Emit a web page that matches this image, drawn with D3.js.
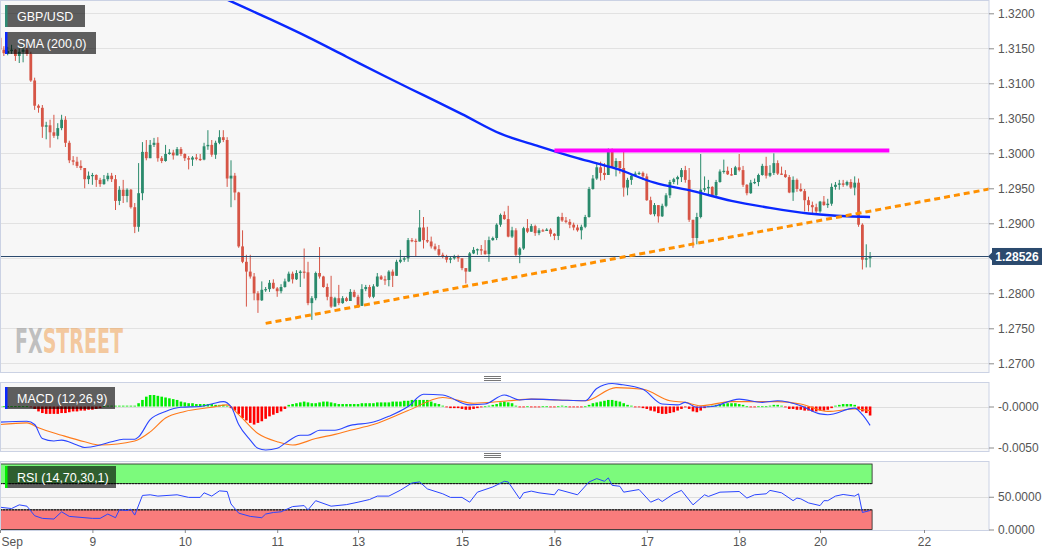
<!DOCTYPE html>
<html>
<head>
<meta charset="utf-8">
<script src="https://cdn.jsdelivr.net/npm/d3@7"></script>
<style>
  body { margin: 0; background: #fff; }
  svg { display: block; font-family: 'Liberation Sans', Arial, sans-serif; }
</style>
</head>
<body>
<svg id="chart" width="1060" height="555"></svg>
<script>
const W = 1060;
const H = 555;
const STEP = 3.85;      // px per hourly candle
const PLOT_R = 989;

// x axis: day labels sit on candle indices (weekend gap collapsed)
const dayLabels = ['Sep', '9', '10', '11', '13', '15', '16', '17', '18', '20', '22'];
const dayIdx = [0, 24, 48, 72, 93, 120, 144, 168, 192, 213, 240];

const priceGrid = [1.27, 1.275, 1.28, 1.285, 1.29, 1.295, 1.30, 1.305, 1.31, 1.315, 1.32];
// 1.2850 label sits under the last-price tag, so it is not printed
const priceLabels = [1.27, 1.275, 1.28, 1.29, 1.295, 1.30, 1.305, 1.31, 1.315, 1.32];
const lastPrice = 1.28526;
const firstOpen = 1.3165;

// hourly candles, open = previous close
const closes = [
  1.3148, 1.3143, 1.3146, 1.3148, 1.3139, 1.3145, 1.3148, 1.3142, 1.3104, 1.3068,
  1.3065, 1.3038, 1.3040, 1.3030, 1.3025, 1.3036, 1.3048, 1.3015, 1.2990, 1.2988,
  1.2982, 1.2979, 1.2963, 1.2968, 1.2969, 1.2962, 1.2956, 1.2963, 1.2968, 1.2963,
  1.2932, 1.2948, 1.2939, 1.2948, 1.2923, 1.2895, 1.2943, 1.3002, 1.2993, 1.3012,
  1.3015, 1.2993, 1.2989, 1.2999, 1.3001, 1.2997, 1.3006, 1.2999, 1.2993, 1.2991,
  1.2994, 1.2992, 1.2991, 1.3010, 1.3012, 1.2998, 1.3015, 1.3023, 1.3019, 1.2964,
  1.2968, 1.2944, 1.2867, 1.2845, 1.2831, 1.2824, 1.2800, 1.2790, 1.2805, 1.2806,
  1.2815, 1.2807, 1.2803, 1.2809, 1.2817, 1.2828, 1.2820, 1.2829, 1.2831, 1.2830,
  1.2786, 1.2793, 1.2829, 1.2824, 1.2809, 1.2795, 1.2781, 1.2793, 1.2786, 1.2793,
  1.2789, 1.2802, 1.2795, 1.2782, 1.2806, 1.2809, 1.2795, 1.2810, 1.2824, 1.2820,
  1.2819, 1.2831, 1.2825, 1.2845, 1.2848, 1.2850, 1.2876, 1.2875, 1.2874, 1.2894,
  1.2876, 1.2874, 1.2867, 1.2863, 1.2855, 1.2853, 1.2848, 1.2850, 1.2852, 1.2850,
  1.2836, 1.2831, 1.2857, 1.2862, 1.2863, 1.2861, 1.2856, 1.2876, 1.2879, 1.2898,
  1.2912, 1.2906, 1.2881, 1.2890, 1.2855, 1.2864, 1.2893, 1.2888, 1.2896, 1.2886,
  1.2890, 1.2889, 1.2891, 1.2885, 1.2882, 1.2909, 1.2904, 1.2902, 1.2898, 1.2894,
  1.2890, 1.2895, 1.2909, 1.2949, 1.2964, 1.2980, 1.2972, 1.2969, 1.3002, 1.2980,
  1.2989, 1.2979, 1.2951, 1.2962, 1.2968, 1.2971, 1.2972, 1.2967, 1.2933, 1.2913,
  1.2926, 1.2910, 1.2925, 1.2940, 1.2959, 1.2963, 1.2966, 1.2976, 1.2962, 1.2905,
  1.2879, 1.2909, 1.2948, 1.2950, 1.2952, 1.2940, 1.2959, 1.2974, 1.2975, 1.2970,
  1.2969, 1.2980, 1.2976, 1.2955, 1.2943, 1.2958, 1.2959, 1.2969, 1.2982, 1.2968,
  1.2972, 1.2986, 1.2971, 1.2970, 1.2966, 1.2944, 1.2962, 1.2949, 1.2946, 1.2933,
  1.2926, 1.2923, 1.2917, 1.2931, 1.2926, 1.2928, 1.2952, 1.2955, 1.2957, 1.2955,
  1.2959, 1.2951, 1.2958, 1.2898, 1.2848, 1.2850, 1.28526
];
const highs = [
  1.3170, 1.3153, 1.3152, 1.3155, 1.3149, 1.3150, 1.3156, 1.3152, 1.3145, 1.3108,
  1.3070, 1.3069, 1.3045, 1.3048, 1.3055, 1.3043, 1.3055, 1.3053, 1.3018, 1.2996,
  1.2995, 1.2990, 1.2978, 1.2974, 1.2972, 1.2970, 1.2965, 1.2969, 1.2972, 1.2972,
  1.2969, 1.2953, 1.2962, 1.2950, 1.2949, 1.2929, 1.2986, 1.3016, 1.3019, 1.3019,
  1.3022, 1.3023, 1.2996, 1.3012, 1.3006, 1.3005, 1.3009, 1.3009, 1.3000, 1.2996,
  1.2996, 1.2999, 1.2999, 1.3015, 1.3033, 1.3019, 1.3018, 1.3033, 1.3033, 1.3023,
  1.2990, 1.2972, 1.2945, 1.2890, 1.2855, 1.2855, 1.2829, 1.2803, 1.2817, 1.2809,
  1.2819, 1.2820, 1.2809, 1.2813, 1.2821, 1.2831, 1.2831, 1.2833, 1.2833, 1.2864,
  1.2845, 1.2796, 1.2831, 1.2866, 1.2825, 1.2814, 1.2825, 1.2795, 1.2812, 1.2796,
  1.2795, 1.2806, 1.2805, 1.2798, 1.2813, 1.2812, 1.2812, 1.2813, 1.2829, 1.2826,
  1.2825, 1.2833, 1.2834, 1.2848, 1.2862, 1.2853, 1.2879, 1.2879, 1.2878, 1.2919,
  1.2909, 1.2895, 1.2881, 1.2871, 1.2869, 1.2858, 1.2855, 1.2852, 1.2855, 1.2855,
  1.2850, 1.2836, 1.2859, 1.2866, 1.2864, 1.2869, 1.2876, 1.2881, 1.2881, 1.2900,
  1.2914, 1.2917, 1.2925, 1.2895, 1.2893, 1.2866, 1.2895, 1.2906, 1.2899, 1.2898,
  1.2893, 1.2892, 1.2893, 1.2893, 1.2886, 1.2910, 1.2915, 1.2909, 1.2906, 1.2901,
  1.2898, 1.2898, 1.2912, 1.2952, 1.2969, 1.2986, 1.2988, 1.2986, 1.3007, 1.3007,
  1.2993, 1.2988, 1.3005, 1.2965, 1.2970, 1.2974, 1.2974, 1.2974, 1.2971, 1.2938,
  1.2929, 1.2926, 1.2928, 1.2943, 1.2962, 1.2965, 1.2968, 1.2979, 1.2982, 1.2979,
  1.2905, 1.2915, 1.2999, 1.2967, 1.2962, 1.2953, 1.2962, 1.2977, 1.2991, 1.2981,
  1.2979, 1.2982, 1.2999, 1.2982, 1.2956, 1.2962, 1.2964, 1.2971, 1.2985, 1.2995,
  1.2983, 1.3000, 1.2990, 1.2981, 1.2976, 1.2969, 1.2967, 1.2964, 1.2957, 1.2949,
  1.2938, 1.2931, 1.2928, 1.2932, 1.2939, 1.2935, 1.2957, 1.2959, 1.2962, 1.2962,
  1.2961, 1.2963, 1.2967, 1.2964, 1.2900, 1.2870, 1.2859
];
const lows = [
  1.3142, 1.3139, 1.3140, 1.3142, 1.3132, 1.3129, 1.3130, 1.3139, 1.3102, 1.3062,
  1.3058, 1.3022, 1.3020, 1.3008, 1.3022, 1.3020, 1.3033, 1.3009, 1.2986, 1.2983,
  1.2979, 1.2976, 1.2950, 1.2956, 1.2955, 1.2952, 1.2952, 1.2955, 1.2960, 1.2959,
  1.2919, 1.2926, 1.2929, 1.2930, 1.2921, 1.2886, 1.2888, 1.2933, 1.2990, 1.2993,
  1.3009, 1.2988, 1.2986, 1.2988, 1.2998, 1.2991, 1.2998, 1.2996, 1.2989, 1.2977,
  1.2982, 1.2990, 1.2989, 1.2990, 1.3005, 1.2995, 1.2992, 1.3013, 1.3016, 1.2952,
  1.2923, 1.2933, 1.2865, 1.2843, 1.2781, 1.2821, 1.2790, 1.2772, 1.2789, 1.2802,
  1.2802, 1.2806, 1.2795, 1.2800, 1.2808, 1.2816, 1.2814, 1.2819, 1.2809, 1.2821,
  1.2783, 1.2762, 1.2790, 1.2821, 1.2808, 1.2790, 1.2779, 1.2781, 1.2783, 1.2785,
  1.2788, 1.2789, 1.2794, 1.2779, 1.2796, 1.2803, 1.2793, 1.2793, 1.2809, 1.2819,
  1.2812, 1.2810, 1.2809, 1.2825, 1.2843, 1.2845, 1.2845, 1.2873, 1.2852, 1.2874,
  1.2864, 1.2872, 1.2864, 1.2861, 1.2852, 1.2850, 1.2844, 1.2843, 1.2848, 1.2845,
  1.2833, 1.2814, 1.2840, 1.2856, 1.2855, 1.2855, 1.2855, 1.2845, 1.2875, 1.2876,
  1.2895, 1.2905, 1.2880, 1.2879, 1.2853, 1.2843, 1.2862, 1.2886, 1.2888, 1.2882,
  1.2883, 1.2888, 1.2889, 1.2881, 1.2876, 1.2876, 1.2902, 1.2900, 1.2893, 1.2890,
  1.2888, 1.2877, 1.2893, 1.2908, 1.2948, 1.2962, 1.2961, 1.2962, 1.2973, 1.2979,
  1.2967, 1.2971, 1.2938, 1.2940, 1.2955, 1.2967, 1.2969, 1.2962, 1.2932, 1.2912,
  1.2910, 1.2901, 1.2909, 1.2923, 1.2936, 1.2956, 1.2955, 1.2959, 1.2958, 1.2902,
  1.2865, 1.2870, 1.2907, 1.2945, 1.2940, 1.2938, 1.2939, 1.2958, 1.2971, 1.2969,
  1.2968, 1.2969, 1.2974, 1.2952, 1.2940, 1.2942, 1.2956, 1.2953, 1.2968, 1.2964,
  1.2966, 1.2969, 1.2969, 1.2969, 1.2965, 1.2943, 1.2932, 1.2945, 1.2945, 1.2917,
  1.2917, 1.2914, 1.2914, 1.2915, 1.2925, 1.2922, 1.2925, 1.2948, 1.2948, 1.2952,
  1.2953, 1.2949, 1.2940, 1.2895, 1.2834, 1.2837, 1.2837
];

// SMA(200): [candle index, price]
const sma200 = [
  [50, 1.3242], [60, 1.3217], [70, 1.3192], [80, 1.3166], [90, 1.3138], [100, 1.3110],
  [110, 1.3083], [120, 1.3056], [130, 1.3028], [140, 1.3010], [150, 1.2993], [160, 1.2978],
  [170, 1.2958], [180, 1.2946], [190, 1.2932], [200, 1.2922], [210, 1.2914], [220, 1.2910], [226, 1.2909]
];

// drawn studies
const resistance = { from: 144, to: 231, price: 1.3004 };
const trendLine = [[69, 1.2757], [257, 1.2949]];

// MACD (12,26,9)
const macdLine = [
  [0, -0.0019], [7, -0.0018], [9, -0.0022], [11, -0.0039], [14, -0.0042], [16, -0.0041], [20, -0.0047],
  [22, -0.0050], [26, -0.0047], [29, -0.0043], [32, -0.0040], [35, -0.0040], [36, -0.0037], [39, -0.0016],
  [43, -0.0006], [47, -0.0001], [52, 0.0000], [55, 0.0003], [58, 0.0006], [60, 0.0000], [62, -0.0022],
  [65, -0.0041], [67, -0.0051], [69, -0.0053], [72, -0.0051], [74, -0.0045], [78, -0.0035], [80, -0.0035],
  [83, -0.0029], [87, -0.0029], [91, -0.0023], [97, -0.0019], [101, -0.0012], [106, 0.0000], [110, 0.0015],
  [115, 0.0014], [122, 0.0002], [126, 0.0003], [131, 0.0014], [135, 0.0008], [138, 0.0009], [145, 0.0008],
  [152, 0.0007], [155, 0.0022], [159, 0.0028], [161, 0.0027], [167, 0.0021], [172, 0.0003], [176, 0.0002],
  [178, 0.0005], [181, -0.0001], [185, 0.0000], [192, 0.0009], [198, 0.0005], [202, 0.0007], [208, 0.0001],
  [213, -0.0009], [215, -0.0010], [222, -0.0002], [224, -0.0010], [226, -0.0023]
];
const macdSignal = [
  [0, -0.0022], [7, -0.0020], [10, -0.0026], [16, -0.0035], [22, -0.0043], [26, -0.0047], [35, -0.0042],
  [39, -0.0031], [43, -0.0014], [48, -0.0006], [55, -0.0001], [59, 0.0002], [62, -0.0010], [67, -0.0033],
  [72, -0.0043], [76, -0.0047], [82, -0.0039], [87, -0.0034], [91, -0.0029], [97, -0.0022], [106, -0.0005],
  [115, 0.0011], [123, 0.0004], [132, 0.0007], [138, 0.0009], [152, 0.0007], [160, 0.0023], [167, 0.0021],
  [174, 0.0007], [178, 0.0005], [182, 0.0001], [190, 0.0006], [202, 0.0006], [208, 0.0003], [215, -0.0006],
  [222, -0.0003], [226, -0.0005]
];
const macdHist = [
  0.00003, 0.00003, 0.00003, 0.00003, 0.00003, 0.00003, 0.00003, 0.00003, -0.00005, -0.0003,
  -0.0006, -0.0008, -0.0009, -0.0009, -0.0009, -0.0009, -0.0008, -0.0008, -0.0007, -0.0006,
  -0.0006, -0.0005, -0.0005, -0.0004, -0.0004, -0.0003, -0.0002, 0.00005, 0.0001, 0.0001,
  0.0001, 0.0001, 0.0001, 0.0001, 0.0001, 0.0001, 0.0004, 0.0008, 0.0012, 0.0014,
  0.0014, 0.0013, 0.0012, 0.0011, 0.0010, 0.0009, 0.0008, 0.0006, 0.0005, 0.0004,
  0.0004, 0.0003, 0.0003, 0.0003, 0.0003, 0.0003, 0.0002, 0.0002, 0.0002, 0.0001,
  -0.0002, -0.0005, -0.0009, -0.0014, -0.0017, -0.0020, -0.0022, -0.0020, -0.0018, -0.0015,
  -0.0012, -0.0010, -0.0008, -0.0006, -0.0003, 0.0002, 0.0003, 0.0004, 0.0005, 0.0006,
  0.0005, 0.0004, 0.0004, 0.0005, 0.0006, 0.0006, 0.0005, 0.0004, 0.0003, 0.0003,
  0.0003, 0.0003, 0.0003, 0.0003, 0.0004, 0.0004, 0.0004, 0.0004, 0.0005, 0.0005,
  0.0005, 0.0005, 0.0006, 0.0006, 0.0006, 0.0007, 0.0007, 0.0008, 0.0008, 0.0008,
  0.0008, 0.0008, 0.0006, 0.0004, 0.0003, 0.0001, -0.0001, -0.0002, -0.0002, -0.0002,
  -0.0003, -0.0004, -0.0004, -0.0003, -0.0002, -0.0001, 0.00002, 0.0001, 0.0002, 0.0003,
  0.0005, 0.0006, 0.0005, 0.0004, 0.0001, -0.0001, -0.0001, 0.00002, -0.0001, -0.0001,
  -0.0001, 0.00002, 0.00002, -0.0001, -0.0001, 0.00002, 0.0001, 0.00002, -0.0001, -0.0001,
  -0.0001, -0.0001, 0.00002, 0.0002, 0.0004, 0.0005, 0.0006, 0.0007, 0.0008, 0.0008,
  0.0007, 0.0006, 0.0004, 0.0002, 0.0001, -0.0001, -0.0001, -0.0002, -0.0003, -0.0005,
  -0.0006, -0.0008, -0.0009, -0.0009, -0.0008, -0.0007, -0.0005, -0.0003, -0.0001, -0.0003,
  -0.0006, -0.0007, -0.0005, -0.0002, 0.00002, 0.0001, 0.0002, 0.0003, 0.0003, 0.0004,
  0.0004, 0.0004, 0.0003, 0.0002, 0.00002, -0.0001, -0.0001, 0.00002, 0.00002, 0.00002,
  0.0001, 0.0002, 0.0002, 0.0001, -0.0001, -0.0003, -0.0003, -0.0004, -0.0004, -0.0005,
  -0.0005, -0.0006, -0.0006, -0.0005, -0.0005, -0.0004, -0.0002, 0.0001, 0.0002, 0.0003,
  0.0003, 0.0003, 0.0002, -0.0003, -0.0006, -0.0008, -0.0011
];

// RSI (14,70,30,1)
const rsiLine = [
  [0, 34], [3, 32], [5, 37.6], [7, 35.6], [9, 21], [11, 17], [14, 16], [16, 27], [18, 20], [24, 17],
  [26, 17], [28, 23.6], [30, 18], [31, 30], [33, 29], [34, 31], [35, 22], [37, 52], [39, 53], [41, 51],
  [46, 53], [49, 49], [52, 49], [53, 56], [55, 51], [57, 59], [59, 58], [60, 39], [62, 25], [65, 20],
  [68, 18], [69, 23.6], [71, 26], [73, 27], [76, 35], [79, 36.5], [80, 30], [82, 44], [86, 35.6], [90, 38],
  [93, 41.7], [96, 45.8], [98, 51], [101, 51], [104, 60], [107, 71], [109, 72.6], [111, 62], [115, 54.5], [117, 49],
  [120, 49], [122, 41.7], [124, 57], [128, 65], [131, 73.6], [132, 72.6], [135, 46.8], [136, 56], [138, 58.6], [140, 56],
  [144, 53], [145, 61], [150, 53], [153, 72.6], [155, 77.7], [157, 73.6], [158, 78.8], [159, 67.4], [161, 66], [162, 57],
  [166, 61], [169, 41.7], [171, 46.8], [172, 42.7], [175, 54.5], [177, 59.7], [180, 37.6], [183, 53], [184, 50.4], [187, 57],
  [192, 58], [194, 48], [196, 53], [199, 54.5], [200, 59.7], [203, 56], [206, 44], [207, 48], [208, 46.8], [210, 40.6],
  [213, 36.5], [214, 44], [215, 44], [217, 51], [219, 53.5], [222, 51], [223, 54.5], [224, 26], [226, 29]
];
const rsiUpper = 70;
const rsiLower = 30;

const macdTicks = [0, -0.005];
const macdTickText = ['-0.0000', '-0.0050'];
const rsiTicks = [50, 0];

const svg = d3.select('#chart');

const x = d3.scaleLinear().domain([0, PLOT_R / STEP]).range([0, PLOT_R]);
const y = d3.scaleLinear().domain([1.27, 1.32]).range([363.3, 13.3]);
const yMacd = d3.scaleLinear().domain([-0.005, 0]).range([447.5, 406.5]);
const yRsi = d3.scaleLinear().domain([0, 100]).range([529.5, 464]);

const panels = [
    { id: 'main', top: 0.5, bottom: 372.5 },
    { id: 'macd', top: 382.5, bottom: 451.5 },
    { id: 'rsi', top: 461.5, bottom: 530.5 }
];

const defs = svg.append('defs');
panels.forEach(p => {
    defs.append('clipPath').attr('id', 'clip-' + p.id)
        .append('rect')
        .attr('x', 0.5).attr('y', p.top)
        .attr('width', PLOT_R - 0.5).attr('height', p.bottom - p.top);
    svg.append('rect')
        .attr('x', 0.5).attr('y', p.top)
        .attr('width', PLOT_R - 0.5).attr('height', p.bottom - p.top)
        .attr('fill', '#f7f7f7');
});

// ---- main panel ----
const gMain = svg.append('g').attr('clip-path', 'url(#clip-main)');

gMain.selectAll('line.grid')
    .data(priceGrid)
    .enter()
    .append('line')
    .attr('class', 'grid')
    .attr('x1', 0).attr('x2', PLOT_R)
    .attr('y1', d => Math.round(y(d)) + 0.5).attr('y2', d => Math.round(y(d)) + 0.5)
    .attr('stroke', '#e2e2e2');

const candles = closes.map((c, i) => {
    const o = i === 0 ? firstOpen : closes[i - 1];
    return { i, o, c, h: Math.max(highs[i], o, c), l: Math.min(lows[i], o, c) };
});
const GREEN = '#2a8a6c';
const RED = '#d65546';

gMain.selectAll('line.wick')
    .data(candles)
    .enter()
    .append('line')
    .attr('class', 'wick')
    .attr('x1', d => x(d.i)).attr('x2', d => x(d.i))
    .attr('y1', d => y(d.h)).attr('y2', d => y(d.l))
    .attr('stroke', d => d.c >= d.o ? GREEN : RED)
    .attr('stroke-width', 1);

gMain.selectAll('rect.body')
    .data(candles)
    .enter()
    .append('rect')
    .attr('class', 'body')
    .attr('x', d => x(d.i) - 1.4)
    .attr('width', 2.8)
    .attr('y', d => y(Math.max(d.o, d.c)))
    .attr('height', d => Math.max(1.2, Math.abs(y(d.o) - y(d.c))))
    .attr('fill', d => d.c >= d.o ? GREEN : RED);

// current price line
gMain.append('line')
    .attr('x1', 0).attr('x2', PLOT_R)
    .attr('y1', y(lastPrice)).attr('y2', y(lastPrice))
    .attr('stroke', '#2b4a6e').attr('stroke-width', 1.2);

// SMA 200
gMain.append('path')
    .datum(sma200)
    .attr('d', d3.line().x(d => x(d[0])).y(d => y(d[1])).curve(d3.curveMonotoneX))
    .attr('fill', 'none')
    .attr('stroke', '#0a28ff')
    .attr('stroke-width', 2.4);

// resistance
gMain.append('line')
    .attr('x1', x(resistance.from)).attr('x2', x(resistance.to))
    .attr('y1', y(resistance.price)).attr('y2', y(resistance.price))
    .attr('stroke', '#ff00ff').attr('stroke-width', 4);

// rising trend line
gMain.append('line')
    .attr('x1', x(trendLine[0][0])).attr('y1', y(trendLine[0][1]))
    .attr('x2', x(trendLine[1][0])).attr('y2', y(trendLine[1][1]))
    .attr('stroke', '#ff9000').attr('stroke-width', 3)
    .attr('stroke-dasharray', '6,4');

// watermark, squeezed horizontally to the logo width
const wm = svg.append('text')
    .style('font-family', "'DejaVu Sans Condensed', sans-serif")
    .style('font-weight', 'bold').style('font-size', '33px');
wm.append('tspan').attr('fill', '#9a9a9a').attr('fill-opacity', 0.6).text('FX');
wm.append('tspan').attr('fill', '#f0a050').attr('fill-opacity', 0.55).text('STREET');
const wmScale = 108 / wm.node().getComputedTextLength();
wm.attr('transform', `translate(15,353) scale(${wmScale},1)`);

// ---- MACD panel ----
const gMacd = svg.append('g').attr('clip-path', 'url(#clip-macd)');

gMacd.selectAll('line.grid')
    .data(macdTicks)
    .enter()
    .append('line')
    .attr('x1', 0).attr('x2', PLOT_R)
    .attr('y1', d => Math.round(yMacd(d)) + 0.5).attr('y2', d => Math.round(yMacd(d)) + 0.5)
    .attr('stroke', '#dedede');

gMacd.selectAll('rect.hist')
    .data(macdHist)
    .enter()
    .append('rect')
    .attr('class', 'hist')
    .attr('x', (d, i) => x(i) - 1.3)
    .attr('width', 2.6)
    .attr('y', d => Math.min(yMacd(d), yMacd(0)))
    .attr('height', d => Math.max(0.8, Math.abs(yMacd(d) - yMacd(0))))
    .attr('fill', d => d >= 0 ? '#00ee00' : '#ff0000');

const studyLine = (sc) => d3.line().x(d => x(d[0])).y(d => sc(d[1])).curve(d3.curveMonotoneX);

gMacd.append('path').datum(macdSignal)
    .attr('d', studyLine(yMacd))
    .attr('fill', 'none').attr('stroke', '#ff7a1a').attr('stroke-width', 1.1);
gMacd.append('path').datum(macdLine)
    .attr('d', studyLine(yMacd))
    .attr('fill', 'none').attr('stroke', '#2a45ff').attr('stroke-width', 1.1);

// ---- RSI panel ----
const gRsi = svg.append('g').attr('clip-path', 'url(#clip-rsi)');
const bandR = x(closes.length - 1) + 1.5;

gRsi.append('line')
    .attr('x1', 0).attr('x2', PLOT_R)
    .attr('y1', Math.round(yRsi(50)) + 0.5).attr('y2', Math.round(yRsi(50)) + 0.5)
    .attr('stroke', '#dedede');

gRsi.append('rect')
    .attr('x', 0.5).attr('y', yRsi(100))
    .attr('width', bandR).attr('height', yRsi(rsiUpper) - yRsi(100))
    .attr('fill', '#7cfa7c').attr('stroke', '#222').attr('stroke-width', 0.8);
gRsi.append('rect')
    .attr('x', 0.5).attr('y', yRsi(rsiLower))
    .attr('width', bandR).attr('height', yRsi(0) - yRsi(rsiLower))
    .attr('fill', '#f97c7c').attr('stroke', '#222').attr('stroke-width', 0.8);

[rsiUpper, rsiLower].forEach(v => {
    gRsi.append('line')
        .attr('x1', 0).attr('x2', bandR)
        .attr('y1', yRsi(v)).attr('y2', yRsi(v))
        .attr('stroke', '#111').attr('stroke-width', 1)
        .attr('stroke-dasharray', '2,1');
});

gRsi.append('path').datum(rsiLine)
    .attr('d', d3.line().x(d => x(d[0])).y(d => yRsi(d[1])))
    .attr('fill', 'none').attr('stroke', '#2a45ff').attr('stroke-width', 1);

// panel borders
panels.forEach(p => {
    svg.append('rect')
        .attr('x', 0.5).attr('y', p.top)
        .attr('width', PLOT_R - 0.5).attr('height', p.bottom - p.top)
        .attr('fill', 'none').attr('stroke', '#cbd2e4');
});

// resize handles
[378, 455].forEach(cy => {
    [-2, 0, 2].forEach(dy => {
        svg.append('line')
            .attr('x1', 484).attr('x2', 501)
            .attr('y1', cy + dy + 0.5).attr('y2', cy + dy + 0.5)
            .attr('stroke', '#777');
    });
});

// ---- axes ----
const styleAxis = g => {
    g.select('.domain').remove();
    g.selectAll('.tick line').attr('stroke', '#8a8a8a');
    g.selectAll('.tick text')
        .attr('fill', '#555')
        .style('font-size', '12px')
        .style('font-family', "'Liberation Sans', Arial, sans-serif");
};

svg.append('g')
    .attr('transform', `translate(${PLOT_R},0)`)
    .call(d3.axisRight(y).tickValues(priceLabels).tickFormat(d3.format('.4f')).tickSize(5).tickPadding(4))
    .call(styleAxis);

svg.append('g')
    .attr('transform', `translate(${PLOT_R},0)`)
    .call(d3.axisRight(yMacd).tickValues(macdTicks).tickFormat((d, i) => macdTickText[i]).tickSize(5).tickPadding(4))
    .call(styleAxis);

svg.append('g')
    .attr('transform', `translate(${PLOT_R},0)`)
    .call(d3.axisRight(yRsi).tickValues(rsiTicks).tickFormat(d3.format('.4f')).tickSize(5).tickPadding(4))
    .call(styleAxis);

const xAxis = svg.append('g')
    .attr('transform', 'translate(0,530)')
    .call(d3.axisBottom(x).tickValues(dayIdx).tickFormat((d, i) => dayLabels[i]).tickSize(3).tickPadding(4))
    .call(styleAxis);
xAxis.selectAll('.tick text').filter((d, i) => i === 0).attr('text-anchor', 'start').attr('x', 1);

// last price tag
const tagY = y(lastPrice);
svg.append('path')
    .attr('d', `M${PLOT_R - 1},${tagY} L${PLOT_R + 4},${tagY - 5} L${PLOT_R + 4},${tagY + 5} Z`)
    .attr('fill', '#2b4a6e');
svg.append('rect')
    .attr('x', PLOT_R + 3).attr('y', tagY - 8.5)
    .attr('width', 50).attr('height', 17)
    .attr('fill', '#2b4a6e');
svg.append('text')
    .attr('x', PLOT_R + 28).attr('y', tagY + 4.5)
    .attr('text-anchor', 'middle')
    .attr('fill', '#fff')
    .style('font-size', '12px').style('font-weight', 'bold')
    .text(d3.format('.5f')(lastPrice));

// legend boxes
const legends = [
    { text: 'GBP/USD', x: 5, y: 5, w: 80, h: 22, bar: '#2e8b74' },
    { text: 'SMA (200,0)', x: 5, y: 32, w: 91, h: 22, bar: '#0a28ff' },
    { text: 'MACD (12,26,9)', x: 5, y: 387, w: 110, h: 22, bar: '#0a28ff' },
    { text: 'RSI (14,70,30,1)', x: 5, y: 466, w: 111, h: 22, bar: '#00ee00' }
];
legends.forEach(l => {
    const g = svg.append('g');
    g.append('rect').attr('x', l.x).attr('y', l.y).attr('width', l.w).attr('height', l.h)
        .attr('fill', 'rgba(0,0,0,0.62)');
    g.append('rect').attr('x', l.x).attr('y', l.y).attr('width', 2.5).attr('height', l.h)
        .attr('fill', l.bar);
    g.append('text').attr('x', l.x + 12).attr('y', l.y + 15.5)
        .attr('fill', '#fff')
        .style('font-size', '12.5px')
        .text(l.text);
});
</script>
</body>
</html>
